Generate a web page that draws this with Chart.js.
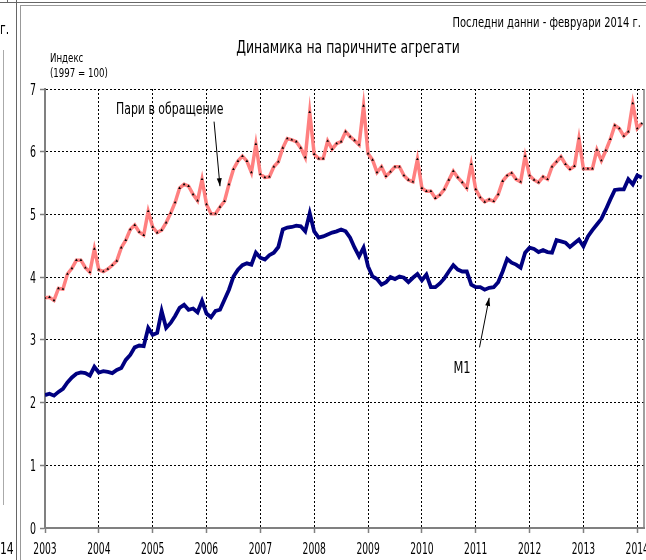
<!DOCTYPE html>
<html>
<head>
<meta charset="utf-8">
<script src="https://cdn.jsdelivr.net/npm/chart.js@4.4.0/dist/chart.umd.min.js"></script>
<style>
  body { margin: 0; background: #fff; overflow: hidden; }
  #wrap { position: relative; width: 646px; height: 560px; overflow: hidden; background: #fff; }
  #chart { position: absolute; left: 0; top: 0; }
  .ln { position: absolute; background: #808080; }
  .side { position: absolute; font: 15px "DejaVu Sans Condensed", Arial, sans-serif; color: #000; transform: scaleX(0.8); transform-origin: left top; }
</style>
</head>
<body>
<div id="wrap">
  <canvas id="chart" width="666" height="560"></canvas>
  <!-- frame bits and the edge of the neighbouring panel -->
  <div class="ln" style="left:0;top:2px;width:646px;height:1px;background:#666"></div>
  <div class="ln" style="left:20px;top:5px;width:626px;height:1px;background:#999"></div>
  <div class="ln" style="left:16px;top:0;width:1px;height:560px;background:#666"></div>
  <div class="ln" style="left:20px;top:5px;width:1px;height:555px;background:#999"></div>
  <div class="ln" style="left:7px;top:0;width:1px;height:3px;background:#666"></div>
  <div class="ln" style="left:3px;top:50px;width:1px;height:455px;background:#aaa"></div>
  <div class="side" style="left:0;top:20px;">г.</div>
  <div class="side" style="left:0;top:540px;">14</div>
</div>

<script>
// Динамика на паричните агрегати, index 1997 = 100, monthly Jan 2003 - Feb 2014

const FONT = '"DejaVu Sans Condensed", "DejaVu Sans", Arial, sans-serif';

const startYear = 2003;
const yearTicks = [2003, 2004, 2005, 2006, 2007, 2008, 2009, 2010, 2011, 2012, 2013, 2014];
const valueTicks = [0, 1, 2, 3, 4, 5, 6, 7];

// Пари в обращение
const moneyInCirculation = [
  3.67, 3.68, 3.63, 3.82, 3.81, 4.05, 4.14, 4.27, 4.27, 4.15, 4.08, 4.45,
  4.12, 4.09, 4.13, 4.19, 4.26, 4.47, 4.59, 4.76, 4.83, 4.72, 4.67, 5.05,
  4.80, 4.71, 4.75, 4.87, 5.02, 5.19, 5.42, 5.48, 5.45, 5.32, 5.22, 5.56,
  5.16, 5.01, 5.01, 5.12, 5.21, 5.48, 5.72, 5.85, 5.93, 5.85, 5.67, 6.12,
  5.64, 5.59, 5.60, 5.76, 5.84, 6.06, 6.21, 6.19, 6.16, 6.06, 5.91, 6.63,
  5.96, 5.89, 5.89, 6.17, 6.04, 6.13, 6.16, 6.32, 6.24, 6.18, 6.11, 6.73,
  5.97, 5.87, 5.67, 5.76, 5.61, 5.68, 5.76, 5.76, 5.62, 5.55, 5.52, 5.88,
  5.42, 5.37, 5.37, 5.26, 5.31, 5.40, 5.55, 5.69, 5.59, 5.51, 5.42, 5.80,
  5.40, 5.27, 5.20, 5.24, 5.21, 5.32, 5.53, 5.62, 5.66, 5.56, 5.52, 5.93,
  5.62, 5.55, 5.51, 5.60, 5.56, 5.76, 5.84, 5.92, 5.80, 5.72, 5.77, 6.21,
  5.73, 5.73, 5.73, 6.03, 5.86, 6.02, 6.20, 6.42, 6.37, 6.25, 6.32, 6.77,
  6.37, 6.45
];

// M1
const m1 = [
  2.12, 2.14, 2.11, 2.17, 2.22, 2.32, 2.40, 2.46, 2.48, 2.47, 2.43, 2.57,
  2.48, 2.50, 2.49, 2.47, 2.52, 2.55, 2.68, 2.76, 2.88, 2.91, 2.90, 3.19,
  3.08, 3.11, 3.46, 3.19, 3.27, 3.38, 3.51, 3.56, 3.48, 3.50, 3.44, 3.62,
  3.42, 3.36, 3.46, 3.48, 3.64, 3.80, 4.01, 4.12, 4.19, 4.22, 4.20, 4.39,
  4.31, 4.28, 4.35, 4.39, 4.48, 4.76, 4.79, 4.80, 4.82, 4.81, 4.73, 5.02,
  4.73, 4.63, 4.65, 4.68, 4.71, 4.73, 4.76, 4.73, 4.63, 4.47, 4.33, 4.47,
  4.17, 4.01, 3.97, 3.88, 3.92, 4.00, 3.97, 4.01, 3.99, 3.92, 3.99, 4.05,
  3.95, 4.04, 3.84, 3.84, 3.90, 3.98, 4.09, 4.19, 4.12, 4.09, 4.09, 3.88,
  3.84, 3.84, 3.80, 3.83, 3.84, 3.92, 4.09, 4.29, 4.23, 4.20, 4.15, 4.39,
  4.47, 4.45, 4.40, 4.43, 4.40, 4.39, 4.59, 4.57, 4.55, 4.48, 4.54, 4.60,
  4.49, 4.65, 4.75, 4.84, 4.93, 5.08, 5.24, 5.39, 5.40, 5.40, 5.56, 5.48,
  5.62, 5.59
];

// month n after Jan 2003 -> fractional year on the x axis
function toPoints(values) {
  return values.map((v, i) => ({ x: startYear + i / 12, y: v }));
}

// the original uses a narrow face, so squeeze the text horizontally
function drawText(ctx, text, x, y, size, align, squeeze) {
  ctx.save();
  ctx.translate(x, y);
  ctx.scale(squeeze, 1);
  ctx.font = size + 'px ' + FONT;
  ctx.textAlign = align;
  ctx.fillText(text, 0, 0);
  ctx.restore();
}

function arrow(ctx, x1, y1, x2, y2) {
  const a = Math.atan2(y2 - y1, x2 - x1);
  ctx.beginPath();
  ctx.moveTo(x1, y1);
  ctx.lineTo(x2, y2);
  ctx.stroke();
  ctx.beginPath();
  ctx.moveTo(x2, y2);
  ctx.lineTo(x2 - 8 * Math.cos(a) + 2.5 * Math.sin(a), y2 - 8 * Math.sin(a) - 2.5 * Math.cos(a));
  ctx.lineTo(x2 - 8 * Math.cos(a) - 2.5 * Math.sin(a), y2 - 8 * Math.sin(a) + 2.5 * Math.cos(a));
  ctx.closePath();
  ctx.fill();
}

// titles, tick labels, notes and the two arrow labels
const notesPlugin = {
  id: 'notes',
  afterDraw(chart) {
    const ctx = chart.ctx;
    const xs = chart.scales.x;
    const ys = chart.scales.y;
    const area = chart.chartArea;
    ctx.save();
    ctx.fillStyle = '#000';
    ctx.textBaseline = 'alphabetic';

    drawText(ctx, 'Последни данни - февруари 2014 г.', 641, 27, 14, 'right', 0.79);
    drawText(ctx, 'Динамика на паричните агрегати', 348, 53, 18, 'center', 0.77);
    drawText(ctx, 'Индекс', 50, 62, 12, 'left', 0.8);
    drawText(ctx, '(1997 = 100)', 50, 77, 12, 'left', 0.8);
    drawText(ctx, 'Пари в обращение', 116, 114, 15, 'left', 0.81);
    drawText(ctx, 'M1', 462, 373, 15, 'center', 0.85);

    yearTicks.forEach(t => drawText(ctx, String(t), xs.getPixelForValue(t), 554, 15, 'center', 0.68));
    valueTicks.forEach(t => drawText(ctx, String(t), 36, ys.getPixelForValue(t) + 5.5, 15, 'right', 0.7));

    ctx.strokeStyle = '#000';
    ctx.lineWidth = 1;
    arrow(ctx, xs.getPixelForValue(2006.14), ys.getPixelForValue(6.48),
               xs.getPixelForValue(2006.25), ys.getPixelForValue(5.45));
    arrow(ctx, xs.getPixelForValue(2011.07), ys.getPixelForValue(2.88),
               xs.getPixelForValue(2011.25), ys.getPixelForValue(3.67));

    // right edge of the plot area
    ctx.strokeStyle = '#808080';
    ctx.lineWidth = 1.5;
    ctx.beginPath();
    ctx.moveTo(area.right, area.top);
    ctx.lineTo(area.right, area.bottom);
    ctx.stroke();
    ctx.restore();
  }
};

const ctx = document.getElementById('chart').getContext('2d');
new Chart(ctx, {
  type: 'line',
  data: {
    datasets: [{
      label: 'Пари в обращение',
      data: toPoints(moneyInCirculation),
      borderColor: '#FF8080',
      borderWidth: 3.5,
      pointStyle: 'triangle',
      pointRadius: 1.6,
      pointBackgroundColor: '#000',
      pointBorderColor: '#000',
      pointBorderWidth: 0,
      tension: 0
    }, {
      label: 'M1',
      data: toPoints(m1),
      borderColor: '#000080',
      borderWidth: 3.8,
      pointRadius: 0,
      tension: 0
    }]
  },
  options: {
    responsive: false,
    animation: false,
    devicePixelRatio: 1,
    layout: { padding: { top: 89, right: 22, left: 0, bottom: 0 } },
    plugins: {
      legend: { display: false },
      title: { display: false },
      tooltip: { enabled: false }
    },
    scales: {
      x: {
        type: 'linear',
        min: 2003,
        max: 2014.125,
        afterBuildTicks: (scale) => { scale.ticks = yearTicks.map(v => ({ value: v })); },
        afterFit: (scale) => { scale.height = 32; },
        ticks: { display: false },
        grid: { color: '#000', lineWidth: 1, tickLength: 5, tickColor: '#808080', tickWidth: 1.5 },
        border: { display: true, color: '#808080', width: 2, dash: [2, 2] }
      },
      y: {
        min: 0,
        max: 7,
        afterBuildTicks: (scale) => { scale.ticks = valueTicks.map(v => ({ value: v })); },
        afterFit: (scale) => { scale.width = 45; },
        ticks: { display: false },
        grid: { color: '#000', lineWidth: 1, tickLength: 5, tickColor: '#808080', tickWidth: 1.5 },
        border: { display: true, color: '#808080', width: 2, dash: [2, 2] }
      }
    }
  },
  plugins: [notesPlugin]
});
</script>
</body>
</html>
